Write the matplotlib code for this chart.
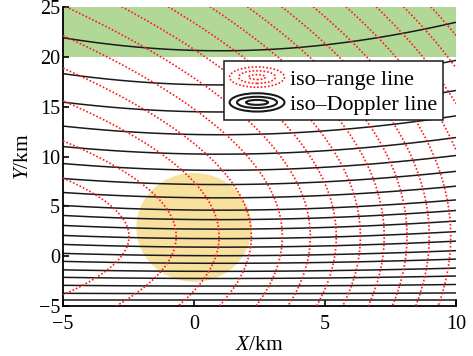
import numpy as np
import matplotlib
matplotlib.use('Agg')
import matplotlib.pyplot as plt
from matplotlib.patches import Ellipse
from matplotlib.legend_handler import HandlerBase
from matplotlib.lines import Line2D

plt.rcParams['font.family'] = ['Liberation Serif', 'DejaVu Serif']
plt.rcParams['mathtext.fontset'] = 'custom'
plt.rcParams['mathtext.rm'] = 'Liberation Serif'
plt.rcParams['mathtext.it'] = 'Liberation Serif:italic'

# y (km) where each iso-Doppler line meets the left edge x = -5 km
doppler_y_at_left = [-4.35, -3.7, -2.9, -2.1, -1.35, -0.5, 0.3, 1.2, 2.1, 3.1,
                     4.1, 5.1, 6.4, 7.8, 9.3, 11.0, 13.05, 15.45, 18.3, 21.9]
# x (km) where the iso-range lines turn round, along y = 2 km
range_x_at_vertex = [-2.48, -0.68, 0.96, 2.19, 3.37, 4.44, 5.43, 6.35, 7.26,
                     8.13, 8.98, 9.8]
# outer iso-range lines: x (km) where they cross the top edge y = 25 km
range_x_at_top = [5.8, 6.95, 8.0, 9.04]

green_band = (20, 25)
scene_centre = (0.0, 2.9)
scene_size = (4.4, 10.9)

# geometry behind the two fields (km)
dop_x0, dop_y0, dop_h = 1.0, -4.35, 18.3
rng_x0, rng_y0, rng_h, rng_sy, rng_k = -1.5, 2.0, 4.0, 0.68, 1.0


def doppler(x, y):
    return (y - dop_y0) / np.sqrt((x - dop_x0)**2 + (y - dop_y0)**2 + dop_h**2)


def bistatic_range(x, y):
    return np.sqrt((x - rng_x0)**2 + (rng_sy*(y - rng_y0))**2 + rng_h**2) + rng_k*x


class RingHandler(HandlerBase):
    # legend key drawn as nested ellipses
    def __init__(self, scales, **kw):
        super().__init__()
        self.scales = scales
        self.kw = kw

    def create_artists(self, legend, orig_handle, xdescent, ydescent,
                       width, height, fontsize, trans):
        cx = 0.5*width - xdescent
        cy = 0.5*height - ydescent
        arts = []
        for sw, sh in self.scales:
            arts.append(Ellipse((cx, cy), width*sw, height*sh, fill=False,
                                transform=trans, **self.kw))
        return arts


fig, ax = plt.subplots(figsize=(4.73, 3.56), dpi=100)
fig.subplots_adjust(left=0.1332, right=0.964, bottom=0.1396, top=0.981)

xs = np.linspace(-5, 10, 700)
ys = np.linspace(-5, 25, 1000)
X, Y = np.meshgrid(xs, ys)

ax.axhspan(green_band[0], green_band[1], color='#b2d898', lw=0, zorder=0)
ax.add_patch(Ellipse(scene_centre, scene_size[0], scene_size[1],
                     color='#f8e09f', lw=0, zorder=1))

dop_levels = doppler(-5.0, np.array(doppler_y_at_left))
cs1 = ax.contour(X, Y, doppler(X, Y), levels=dop_levels, colors='#1a1a1a',
                 linewidths=1.1, zorder=2)

rng_levels = np.concatenate([bistatic_range(np.array(range_x_at_vertex), 2.0),
                             bistatic_range(np.array(range_x_at_top), 25.0)])
cs2 = ax.contour(X, Y, bistatic_range(X, Y), levels=np.sort(rng_levels),
                 colors='#ff1a1a', linewidths=1.2, zorder=3)
cs2.set_linestyle((0, (1.0, 1.2)))

ax.set_xlim(-5, 10)
ax.set_ylim(-5, 25)
ax.set_xticks([-5, 0, 5, 10])
ax.set_yticks([-5, 0, 5, 10, 15, 20, 25])
ax.tick_params(direction='in', length=4.5, width=1.2, labelsize=14.5)
ax.tick_params(axis='y', pad=2)
ax.tick_params(axis='x', pad=6)
ax.spines['top'].set_visible(False)
# right edge only closes the strip under the zero-Doppler line
ax.spines['right'].set_bounds(-5, doppler_y_at_left[0])
for s in ['left', 'bottom', 'right']:
    ax.spines[s].set_linewidth(1.3)

ax.set_xlabel('$\\mathit{X}$/km', fontsize=15.5, labelpad=2)
ax.set_ylabel('$\\mathit{Y}$/km', fontsize=15.5, labelpad=4)

h_rng = Line2D([], [], color='red')
h_dop = Line2D([], [], color='k')
leg = ax.legend([h_rng, h_dop], ['iso\u2013range line', 'iso\u2013Doppler line'],
                handler_map={
                    h_rng: RingHandler([(1, 1), (0.67, 0.62), (0.31, 0.24)],
                                       edgecolor='#ff1a1a', lw=1.2,
                                       linestyle=(0, (1.0, 1.2))),
                    h_dop: RingHandler([(1, 0.9), (0.73, 0.55), (0.4, 0.24)],
                                       edgecolor='#1a1a1a', lw=1.5)},
                loc='upper left', bbox_to_anchor=(0.41, 0.8175),
                fontsize=15.8, handlelength=2.5, handleheight=1.05,
                handletextpad=0.25, labelspacing=0.12, borderpad=0.25,
                borderaxespad=0, fancybox=False, framealpha=1,
                edgecolor='#1a1a1a')
leg.get_frame().set_linewidth(1.1)
leg.set_zorder(5)

fig.savefig('out.png', dpi=100, facecolor='white')
